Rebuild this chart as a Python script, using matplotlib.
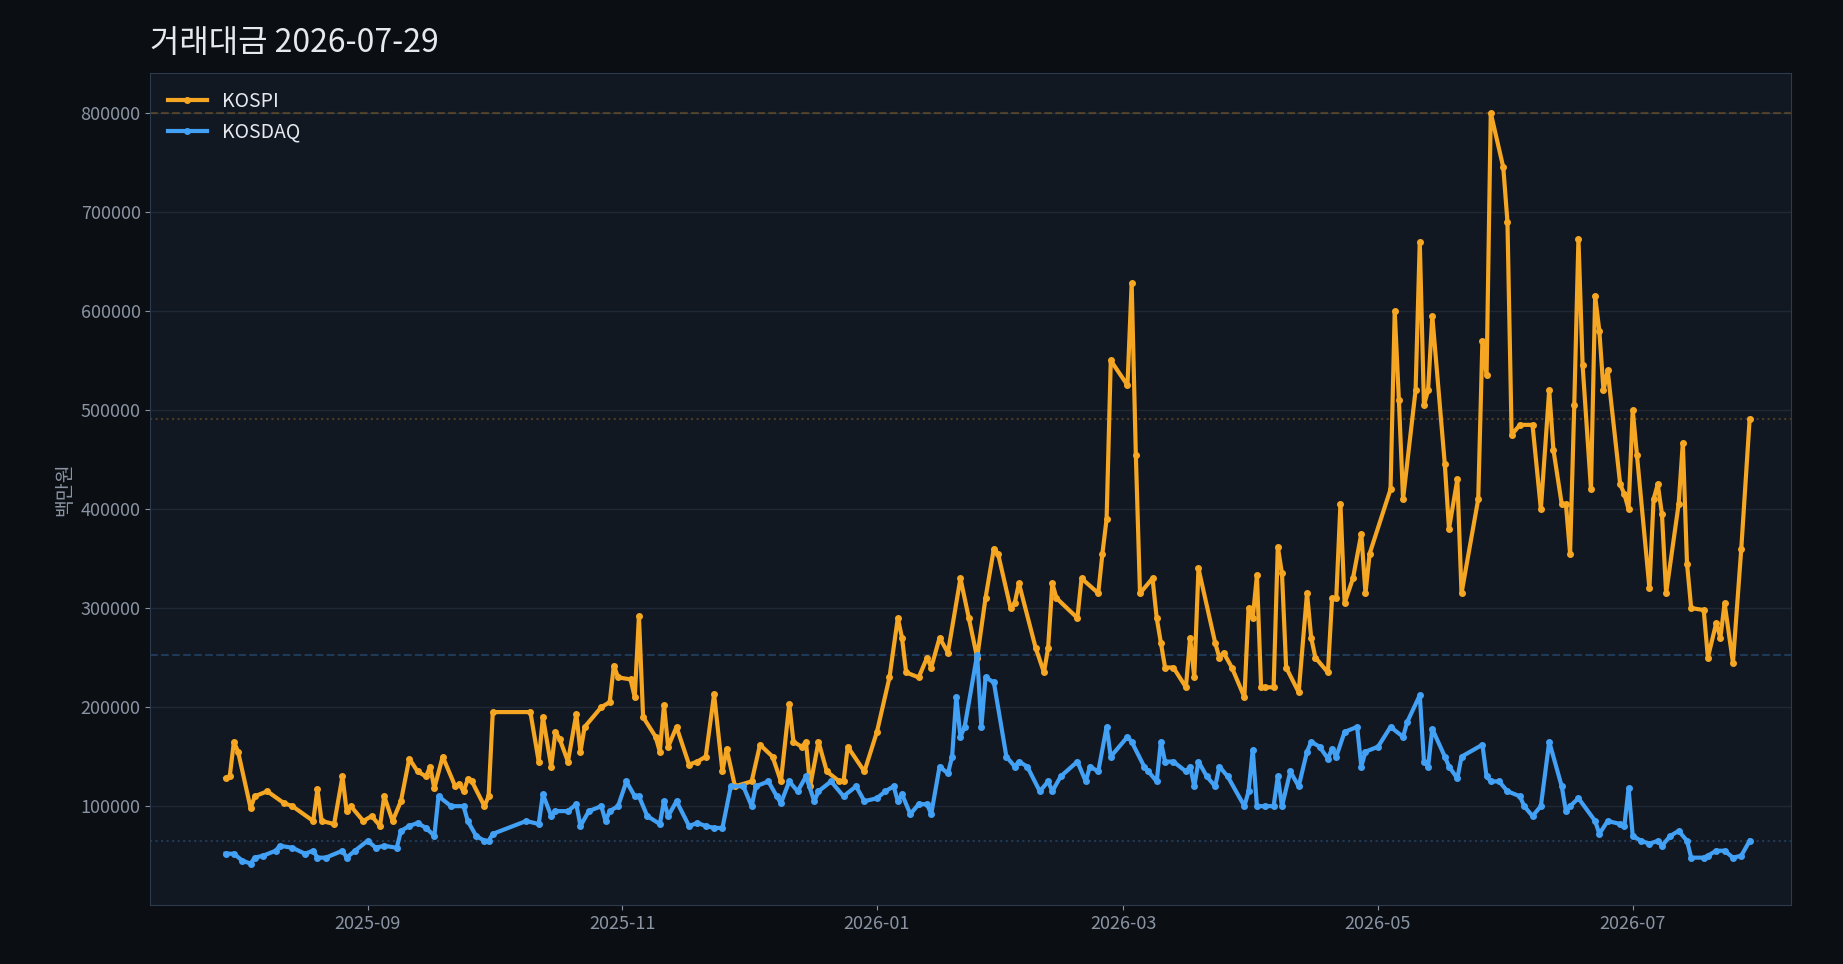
import numpy as np
import pandas as pd
import matplotlib.pyplot as plt
import matplotlib.dates as mdates

plt.rcParams['font.family'] = ['Noto Sans CJK KR', 'DejaVu Sans']

start = pd.Timestamp('2025-07-29')

# 시작일로부터 경과일 / 거래대금 (백만원)
kospi_days = [0, 1, 2, 3, 6, 7, 10, 14, 16, 21, 22, 23, 26, 28, 29, 30, 33, 35, 37, 38, 40, 42, 44, 46, 48, 49, 50, 52,
              55, 56, 57, 58, 59, 62, 63, 64, 73, 75, 76, 78, 79, 80, 82, 84, 85, 86, 90, 92, 93, 94, 97, 98, 99, 100,
              103, 104, 105, 106, 108, 111, 113, 115, 117, 119, 120, 122, 126, 128, 131, 133, 135, 136, 138, 139, 140,
              142, 144, 147, 148, 149, 153, 156, 159, 161, 162, 163, 166, 168, 169, 171, 173, 176, 178, 180, 182, 184,
              185, 188, 189, 190, 194, 196, 197, 198, 199, 204, 205, 209, 210, 211, 212, 216, 217, 218, 219, 222, 223,
              224, 225, 227, 230, 231, 232, 233, 237, 238, 239, 241, 244, 245, 246, 247, 248, 249, 251, 252, 253, 254,
              257, 259, 260, 261, 264, 265, 266, 267, 268, 270, 272, 273, 274, 279, 280, 281, 282, 285, 286, 287, 288,
              289, 292, 293, 295, 296, 300, 301, 302, 303, 306, 307, 308, 310, 313, 315, 317, 318, 320, 321, 322, 323,
              324, 325, 327, 328, 329, 330, 331, 334, 335, 336, 337, 338, 341, 342, 343, 344, 345, 348, 349, 350, 351,
              354, 355, 357, 358, 359, 361, 363, 365]
kospi = [128, 130, 165, 155, 98, 110, 115, 103, 100, 85, 117, 85, 82, 130, 95, 100, 85, 90, 80, 110, 85, 105, 148, 135,
         130, 140, 118, 150, 120, 122, 115, 127, 125, 100, 110, 195, 195, 145, 190, 140, 175, 168, 145, 193, 155, 180,
         200, 205, 242, 230, 228, 210, 292, 190, 170, 155, 202, 160, 180, 142, 145, 150, 213, 135, 158, 120, 125, 162,
         150, 125, 203, 165, 160, 165, 120, 165, 135, 125, 125, 160, 135, 175, 230, 290, 270, 235, 230, 250, 240, 270,
         255, 330, 290, 250, 310, 360, 355, 300, 305, 325, 260, 235, 260, 325, 310, 290, 330, 315, 355, 390, 550, 525,
         628, 455, 315, 330, 290, 265, 240, 240, 220, 270, 230, 340, 265, 250, 255, 240, 210, 300, 290, 333, 220, 220,
         220, 362, 335, 240, 215, 315, 270, 250, 235, 310, 310, 405, 305, 330, 375, 315, 355, 420, 600, 510, 410, 520,
         670, 505, 520, 595, 445, 380, 430, 315, 410, 570, 535, 800, 745, 690, 475, 485, 485, 400, 520, 460, 405, 405,
         355, 505, 673, 545, 420, 615, 580, 520, 540, 425, 415, 400, 500, 455, 320, 410, 425, 395, 315, 405, 467, 345,
         300, 298, 250, 285, 270, 305, 245, 360, 491]

kosdaq_days = [0, 2, 4, 6, 7, 9, 12, 13, 16, 19, 21, 22, 24, 28, 29, 31, 34, 36, 38, 41, 42, 44, 46, 48, 50, 51, 54,
               57, 58, 60, 62, 63, 64, 72, 75, 76, 78, 79, 82, 84, 85, 87, 90, 91, 92, 94, 96, 98, 99, 101, 104, 105,
               106, 108, 111, 113, 115, 117, 119, 121, 124, 126, 127, 130, 132, 133, 135, 137, 139, 141, 142, 145, 148,
               151, 153, 156, 158, 160, 161, 162, 164, 166, 168, 169, 171, 173, 174, 175, 176, 177, 180, 181, 182, 184,
               187, 189, 190, 192, 195, 197, 198, 200, 204, 206, 207, 209, 211, 212, 216, 217, 220, 221, 223, 224, 225,
               227, 230, 231, 232, 233, 235, 237, 238, 240, 244, 245, 246, 247, 249, 251, 252, 253, 255, 257, 259, 260,
               262, 264, 265, 266, 268, 271, 272, 273, 276, 279, 282, 283, 286, 287, 288, 289, 292, 293, 295, 296, 301,
               302, 303, 305, 307, 310, 311, 313, 315, 317, 320, 321, 322, 324, 328, 329, 331, 334, 335, 336, 337, 339,
               341, 343, 344, 346, 348, 350, 351, 354, 355, 357, 359, 361, 363, 365]
kosdaq = [52, 52, 45, 42, 48, 50, 55, 60, 58, 52, 55, 48, 48, 55, 48, 55, 65, 58, 60, 58, 75, 80, 83, 78, 70, 110, 100,
          100, 85, 70, 65, 65, 72, 85, 82, 112, 90, 95, 95, 102, 80, 95, 100, 85, 95, 100, 125, 110, 110, 90, 82, 105,
          90, 105, 80, 83, 80, 78, 78, 120, 120, 100, 120, 125, 110, 103, 125, 115, 130, 105, 115, 125, 110, 120, 105,
          108, 115, 120, 105, 112, 92, 102, 102, 92, 140, 133, 150, 210, 170, 180, 253, 180, 230, 225, 150, 140, 145,
          140, 115, 125, 115, 130, 145, 125, 140, 135, 180, 150, 170, 165, 140, 135, 125, 165, 145, 145, 135, 140, 120,
          145, 130, 120, 140, 130, 100, 115, 157, 100, 100, 100, 130, 100, 135, 120, 155, 165, 160, 148, 158, 150, 175,
          180, 140, 155, 160, 180, 170, 185, 212, 145, 140, 178, 150, 140, 128, 150, 162, 130, 125, 125, 115, 110, 100,
          90, 100, 165, 120, 95, 100, 108, 85, 72, 85, 82, 80, 118, 70, 65, 62, 65, 60, 70, 75, 65, 48, 48, 50, 55, 55,
          48, 50, 65]

kospi_dates = start + pd.to_timedelta(kospi_days, unit='D')
kosdaq_dates = start + pd.to_timedelta(kosdaq_days, unit='D')
kospi = np.array(kospi) * 1000
kosdaq = np.array(kosdaq) * 1000

c_kospi = '#f5a623'
c_kosdaq = '#42a0f5'

fig = plt.figure(figsize=(18.43, 9.64), dpi=100, facecolor='#0b0e13')
ax = fig.add_axes([0.0816, 0.061, 0.8904, 0.863], facecolor='#121822')

ax.grid(axis='y', color='#1f2835', linewidth=1)
ax.set_axisbelow(True)

ax.axhline(kospi.max(), color=c_kospi, alpha=0.25, linestyle='--', linewidth=1.5)
ax.axhline(kospi[-1], color=c_kospi, alpha=0.25, linestyle=':', linewidth=1.5)
ax.axhline(kosdaq.max(), color=c_kosdaq, alpha=0.25, linestyle='--', linewidth=1.5)
ax.axhline(kosdaq[-1], color=c_kosdaq, alpha=0.25, linestyle=':', linewidth=1.5)

ax.plot(kospi_dates, kospi, color=c_kospi, linewidth=3, marker='o', markersize=4, label='KOSPI')
ax.plot(kosdaq_dates, kosdaq, color=c_kosdaq, linewidth=3, marker='o', markersize=4, label='KOSDAQ')

ax.set_ylim(0, 840000)
ax.set_yticks(np.arange(100000, 800001, 100000))
ax.set_xlim(start - pd.Timedelta(days=18), start + pd.Timedelta(days=375))
ax.xaxis.set_major_locator(mdates.MonthLocator(bymonth=[1, 3, 5, 7, 9, 11]))
ax.xaxis.set_major_formatter(mdates.DateFormatter('%Y-%m'))

for s in ax.spines.values():
    s.set_color('#2c3b4d')
ax.tick_params(colors='#8a94a3', labelsize=13)
ax.set_ylabel('백만원', color='#8a94a3', fontsize=14)
fig.text(0.0816, 0.955, '거래대금 2026-07-29', color='#e6e9ee', fontsize=23, ha='left', va='center')

leg = ax.legend(loc='upper left', frameon=False, fontsize=14, labelcolor='#e6e9ee')

fig.savefig('out.png', dpi=100, facecolor=fig.get_facecolor())
